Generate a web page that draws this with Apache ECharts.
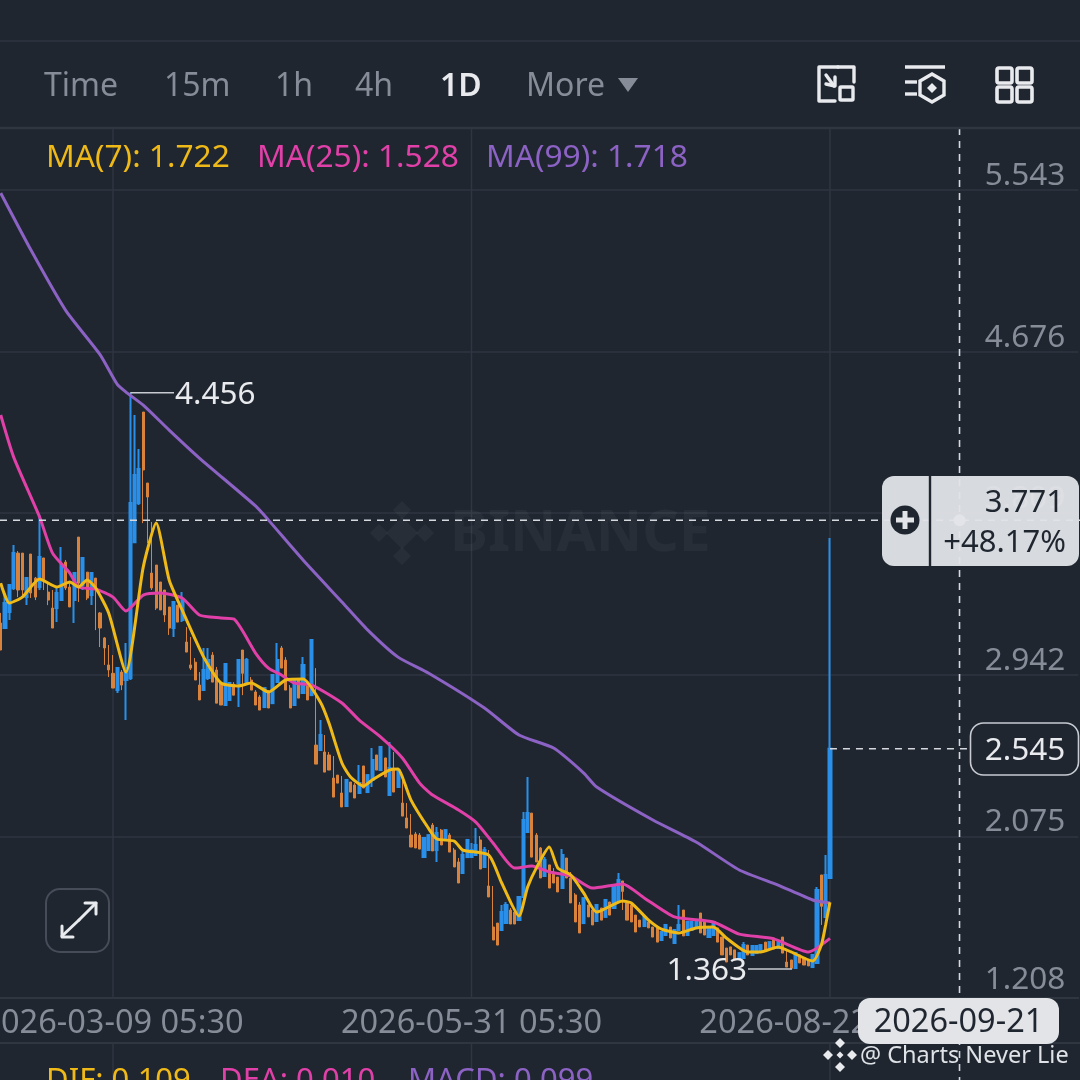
<!DOCTYPE html>
<html><head><meta charset="utf-8">
<style>html,body{margin:0;padding:0;background:#1f2630}#c{width:1080px;height:1080px}</style>
<script src="https://cdn.jsdelivr.net/npm/echarts@6/dist/echarts.min.js"></script>
</head><body><div id="c"></div>
<script>
// ---------- data ----------
const categories = [];
(function(){ const d0 = Date.UTC(2026,1,11); for (let i=0;i<250;i++){ categories.push(new Date(d0+i*864e5).toISOString().slice(0,10)+' 05:30'); } })();
const labelledDays = ['2026-03-09 05:30','2026-05-31 05:30','2026-08-22 05:30'];
const priceTicks = ['1.208','2.075','2.942','3.809','4.676','5.543'];
const axisMin = 1.208, axisStep = 0.867, axisMax = 5.876;
// [open, close, low, high]
const candles = [
[3.22,3.075,3.075,3.274],[3.193,3.327,3.193,3.381],[3.279,3.424,3.236,3.424],[3.408,3.595,3.397,3.638],[3.595,3.397,3.359,3.606],[3.595,3.397,3.359,3.595],[3.359,3.461,3.316,3.461],[3.59,3.381,3.354,3.59],[3.461,3.359,3.343,3.467],[3.413,3.574,3.397,3.799],
[3.569,3.451,3.397,3.569],[3.386,3.343,3.316,3.434],[3.3,3.193,3.193,3.397],[3.3,3.381,3.225,3.413],[3.343,3.52,3.343,3.628],[3.547,3.408,3.397,3.558],[3.413,3.306,3.306,3.434],[3.343,3.488,3.22,3.488],[3.681,3.434,3.333,3.681],[3.424,3.569,3.397,3.569],
[3.493,3.354,3.343,3.493],[3.37,3.488,3.316,3.488],[3.461,3.413,3.182,3.461],[3.274,3.193,3.091,3.279],[3.14,3.086,2.995,3.145],[2.995,2.968,2.93,3.102],[2.95,2.871,2.871,3.048],[2.86,2.978,2.844,2.978],[2.957,2.887,2.86,2.968],[2.914,2.978,2.699,3.113],
[2.925,3.864,2.914,4.456],[3.654,4.014,3.649,4.336],[3.864,4.046,3.853,4.153],[4.352,4.041,3.756,4.352],[3.971,3.896,3.649,3.971],[3.488,3.408,3.397,3.762],[3.531,3.3,3.29,3.531],[3.44,3.29,3.29,3.44],[3.397,3.263,3.225,3.397],[3.306,3.193,3.156,3.306],
[3.193,3.333,3.145,3.333],[3.316,3.225,3.225,3.316],[3.236,3.343,3.225,3.386],[3.118,3.064,3.064,3.198],[2.995,2.978,2.968,3.145],[3.01,2.914,2.914,3.032],[2.887,2.807,2.807,2.957],[2.86,2.968,2.86,3.086],[2.925,3.021,2.914,3.086],[3.048,2.903,2.903,3.064],
[2.968,2.79,2.79,2.984],[2.898,2.78,2.78,2.898],[2.78,3.0,2.78,3.0],[2.807,2.898,2.807,2.898],[2.892,2.833,2.833,2.903],[2.898,3.021,2.769,3.021],[3.075,2.95,2.833,3.075],[2.903,3.021,2.903,3.032],[2.914,2.86,2.86,2.93],[2.85,2.78,2.78,2.86],
[2.823,2.753,2.753,2.833],[2.769,2.871,2.769,2.871],[2.85,2.764,2.764,2.86],[2.79,2.941,2.79,2.941],[2.903,3.021,2.903,3.113],[3.086,2.978,2.978,3.097],[3.021,2.86,2.86,3.037],[2.871,2.764,2.764,2.887],[2.78,2.914,2.78,2.914],[2.914,2.817,2.817,2.925],
[2.844,2.995,2.844,3.037],[2.903,2.807,2.807,2.903],[2.833,3.129,2.833,3.129],[2.565,2.463,2.463,2.978],[2.539,2.619,2.539,2.699],[2.528,2.42,2.42,2.619],[2.512,2.431,2.431,2.528],[2.388,2.286,2.286,2.506],[2.404,2.361,2.361,2.404],[2.308,2.233,2.233,2.399],
[2.238,2.378,2.238,2.378],[2.367,2.313,2.313,2.367],[2.351,2.281,2.281,2.361],[2.308,2.361,2.308,2.458],[2.453,2.335,2.335,2.453],[2.313,2.404,2.313,2.404],[2.378,2.485,2.34,2.549],[2.512,2.431,2.431,2.512],[2.431,2.555,2.431,2.555],[2.496,2.394,2.394,2.496],
[2.297,2.442,2.297,2.581],[2.442,2.313,2.313,2.528],[2.34,2.431,2.34,2.431],[2.254,2.184,2.184,2.394],[2.174,2.12,2.12,2.254],[2.082,2.018,2.018,2.195],[2.088,2.013,2.013,2.099],[2.082,2.007,2.007,2.093],[1.964,2.066,1.964,2.066],[2.002,2.082,2.002,2.082],
[2.136,1.997,1.997,2.147],[2.002,2.093,1.938,2.125],[2.109,2.029,2.029,2.115],[2.056,2.109,2.056,2.109],[2.082,1.991,1.991,2.093],[2.002,1.911,1.911,2.013],[1.938,1.825,1.825,1.959],[1.879,1.975,1.879,2.002],[1.964,2.056,1.964,2.056],[1.964,2.002,1.964,2.04],
[1.975,2.029,1.975,2.12],[2.056,1.9,1.9,2.077],[1.911,2.002,1.911,2.018],[1.809,1.75,1.75,2.002],[1.589,1.519,1.519,1.809],[1.61,1.492,1.492,1.61],[1.573,1.669,1.573,1.707],[1.61,1.707,1.61,1.723],[1.68,1.605,1.605,1.691],[1.669,1.605,1.605,1.68],
[1.626,1.75,1.626,1.75],[1.75,2.163,1.75,2.206],[2.099,2.2,2.099,2.394],[2.2,1.964,1.964,2.2],[2.082,1.938,1.938,2.093],[2.013,1.852,1.852,2.018],[1.863,1.948,1.863,1.964],[1.922,1.798,1.798,1.922],[1.884,1.825,1.825,1.905],[1.857,1.777,1.777,1.857],
[1.798,1.975,1.798,2.007],[1.959,1.852,1.852,1.959],[1.852,1.718,1.718,1.884],[1.761,1.616,1.616,1.771],[1.707,1.557,1.557,1.723],[1.61,1.744,1.61,1.744],[1.707,1.643,1.643,1.707],[1.68,1.6,1.6,1.68],[1.621,1.707,1.621,1.707],[1.691,1.626,1.626,1.691],
[1.643,1.734,1.643,1.734],[1.723,1.653,1.653,1.723],[1.691,1.804,1.691,1.804],[1.734,1.841,1.734,1.879],[1.836,1.78,1.68,1.836],[1.718,1.626,1.626,1.718],[1.707,1.616,1.616,1.707],[1.653,1.562,1.562,1.653],[1.626,1.589,1.589,1.626],[1.594,1.643,1.594,1.643],
[1.616,1.584,1.584,1.616],[1.589,1.535,1.535,1.589],[1.584,1.508,1.508,1.584],[1.519,1.562,1.519,1.562],[1.546,1.6,1.546,1.6],[1.589,1.53,1.53,1.589],[1.503,1.573,1.503,1.573],[1.573,1.6,1.573,1.707],[1.68,1.541,1.541,1.68],[1.546,1.616,1.546,1.616],
[1.573,1.616,1.573,1.616],[1.584,1.616,1.584,1.616],[1.664,1.557,1.557,1.664],[1.616,1.546,1.546,1.616],[1.535,1.589,1.535,1.589],[1.546,1.616,1.546,1.616],[1.584,1.508,1.508,1.584],[1.535,1.439,1.439,1.535],[1.476,1.401,1.401,1.476],[1.482,1.439,1.439,1.482],
[1.466,1.412,1.412,1.466],[1.423,1.449,1.423,1.449],[1.423,1.492,1.423,1.508],[1.492,1.439,1.439,1.492],[1.439,1.487,1.439,1.487],[1.449,1.487,1.449,1.487],[1.455,1.492,1.455,1.492],[1.508,1.466,1.466,1.508],[1.471,1.508,1.471,1.508],[1.53,1.471,1.471,1.53],
[1.476,1.508,1.476,1.508],[1.535,1.449,1.449,1.535],[1.401,1.374,1.374,1.466],[1.412,1.368,1.363,1.412],[1.369,1.449,1.369,1.449],[1.439,1.396,1.396,1.439],[1.423,1.385,1.385,1.423],[1.412,1.38,1.38,1.412],[1.374,1.439,1.374,1.439],[1.396,1.787,1.396,1.804],
[1.868,1.7,1.6,1.868],[1.643,1.868,1.643,1.975],[1.852,2.545,1.852,3.676]
];
// moving averages as [day index, value]
const ma7 = [[0,3.434],[2,3.327],[5,3.359],[9,3.456],[13,3.413],[16,3.44],[18,3.413],[20,3.451],[22,3.408],[25,3.274],[29,2.957],[33,3.52],[36,3.756],[39,3.451],[42,3.29],[47,3.037],[51,2.898],[55,2.882],[58,2.898],[62,2.85],[66,2.914],[70,2.919],[74,2.796],[76,2.683],[79,2.469],[81,2.394],[84,2.345],[86,2.378],[90,2.431],[92,2.437],[93,2.394],[95,2.27],[99,2.12],[101,2.061],[105,2.05],[107,2.002],[113,1.975],[116,1.825],[120,1.648],[122,1.803],[124,1.905],[127,2.018],[129,1.905],[132,1.868],[135,1.771],[138,1.669],[144,1.728],[146,1.718],[150,1.626],[153,1.578],[157,1.557],[161,1.584],[165,1.589],[168,1.53],[173,1.455],[176,1.455],[180,1.482],[183,1.455],[188,1.406],[190,1.492],[191,1.6],[192,1.722]];
const ma25 = [[0,4.336],[3,4.11],[9,3.789],[12,3.595],[16,3.488],[18,3.413],[22,3.402],[26,3.359],[29,3.284],[33,3.37],[37,3.381],[42,3.354],[46,3.263],[51,3.247],[54,3.241],[59,3.059],[62,2.978],[65,2.941],[68,2.898],[72,2.887],[79,2.791],[83,2.699],[88,2.608],[93,2.496],[97,2.361],[100,2.297],[106,2.217],[110,2.152],[114,2.04],[119,1.905],[123,1.916],[127,1.884],[132,1.863],[137,1.798],[144,1.82],[149,1.745],[156,1.643],[165,1.616],[171,1.551],[179,1.525],[187,1.455],[192,1.528]];
const ma99 = [[0,5.527],[7,5.221],[15,4.899],[23,4.66],[27,4.5],[29,4.459],[33,4.389],[39,4.255],[46,4.105],[59,3.848],[62,3.772],[70,3.558],[79,3.333],[85,3.182],[92,3.037],[99,2.952],[112,2.764],[120,2.619],[128,2.549],[135,2.415],[138,2.34],[151,2.163],[161,2.045],[171,1.895],[180,1.814],[188,1.734],[192,1.718]];
const highMark = {day:'2026-03-13 05:30', value:4.456, text:'4.456'};
const lowMark = {day:'2026-08-13 05:30', value:1.363, text:'1.363'};
const lastPrice = {day:'2026-08-22 05:30', value:2.545, text:'2.545'};
const crosshair = {day:'2026-09-21 05:30', value:3.771, text:'3.771', change:'+48.17%', date:'2026-09-21'};
const tabs = [['Time',44],['15m',164],['1h',275],['4h',355],['1D',440],['More',526]];
const maLegend = [['MA(7): 1.722',46,'#efb917'],['MA(25): 1.528',257,'#e040a8'],['MA(99): 1.718',486,'#8c62c4']];
const macdLegend = [['DIF: 0.109',46,'#efb917'],['DEA: 0.010',220,'#e040a8'],['MACD: 0.099',408,'#8c62c4']];

// ---------- styles ----------
const FONT = '"Noto Sans"';
const BG='#1f2630', GRID='#2f3640', GREY='#868d98', WHITE='#e8eaee', UP='#2a8fe9', DOWN='#d9823c', CHIP='#e2e4e8', DARK='#1f2630';

const chart = echarts.init(document.getElementById('c'), null, {width:1080, height:1080});
const candleData = candles.map(c => ({value:c, itemStyle:{borderWidth: c[1]>=c[0] ? 2 : 1}}));
const lineSeries = (name,data,color,z) => ({name,type:'line',data,z,showSymbol:false,symbol:'none',smooth:0.2,
  lineStyle:{color,width:3},itemStyle:{color},animation:false,connectNulls:true,silent:true});

chart.setOption({
  animation:false,
  backgroundColor:BG,
  grid:{left:-1.45,width:1079.75,top:128,height:870,containLabel:false,outerBoundsMode:'none'},
  xAxis:{type:'category',data:categories,boundaryGap:true,
    axisLine:{show:true,lineStyle:{color:GRID,width:2}},
    axisTick:{show:false,alignWithLabel:true},
    splitLine:{show:false},
    axisLabel:{show:true,interval:(i,v)=>labelledDays.includes(v),color:GREY,fontFamily:FONT,fontSize:32.5,margin:9,hideOverlap:false}},
  yAxis:{type:'value',position:'right',min:axisMin,max:axisMax,interval:axisStep,scale:true,
    axisLine:{show:false},axisTick:{show:false},
    splitLine:{show:true,lineStyle:{color:GRID,width:1.5}},
    axisLabel:{inside:true,margin:13,color:GREY,fontFamily:FONT,fontSize:31.5,verticalAlign:'bottom',lineHeight:28,
      rich:{low:{color:GREY,fontFamily:FONT,fontSize:31.5,lineHeight:36}},
      formatter:v=>{const t=priceTicks.find(t=>Math.abs(+t-v)<0.01)||''; return t===priceTicks[0]?`{low|${t}}`:t;}}},
  series:[
    {name:'price',type:'candlestick',data:candleData,barWidth:2.6,z:2,silent:true,
      itemStyle:{color:UP,color0:DOWN,borderColor:UP,borderColor0:DOWN,borderWidth:1}},
    lineSeries('MA(99)',ma99,'#8c62c4',3),
    lineSeries('MA(25)',ma25,'#e040a8',4),
    lineSeries('MA(7)',ma7,'#efb917',5)
  ]
});

// ---------- chrome + annotations, placed through the chart's scales ----------
const px = (d,v) => chart.convertToPixel({gridIndex:0},[d,v]);
const txt = (text,x,y,fill,size,align,weight,z) => ({type:'text',z:z||50,silent:true,style:{text,x,y:y+2,fill,align:align||'left',verticalAlign:'middle',
  font:`${weight||'normal'} ${size}px ${FONT}`}});
const ln = (x1,y1,x2,y2,stroke,w,dash,z) => ({type:'line',z:z||50,silent:true,shape:{x1,y1,x2,y2},style:{stroke,lineWidth:w||1.5,lineDash:dash||null}});
const rect = (x,y,w,h,r,fill,stroke,lw,op,z) => ({type:'rect',z:z||50,silent:true,shape:{x,y,width:w,height:h,r},style:{fill,stroke,lineWidth:lw||0,opacity:op==null?1:op}});
const poly = (pts,stroke,w,z) => ({type:'polyline',z:z||50,silent:true,shape:{points:pts},style:{stroke,lineWidth:w||3,fill:'none',lineCap:'round',lineJoin:'round'}});
const diamond = (cx,cy,s,fill,z) => ({type:'polygon',z:z||50,silent:true,shape:{points:[[cx,cy-s],[cx+s,cy],[cx,cy+s],[cx-s,cy]]},style:{fill}});

const hi = px(highMark.day,highMark.value), lo = px(lowMark.day,lowMark.value), last = px(lastPrice.day,lastPrice.value), ch = px(crosshair.day,crosshair.value);
const vx = [px(labelledDays[0],2)[0],px(labelledDays[1],2)[0],px(labelledDays[2],2)[0]];
const els = [];
// frame lines
els.push(ln(0,41,1080,41,GRID,1.5), ln(0,128,1080,128,GRID,2.5), ln(0,1043,1080,1043,GRID,2));
vx.forEach(x=>els.push(ln(x,128,x,998,GRID,1.5,null,1),ln(x,1044,x,1080,GRID,1.5)));
// tabs
tabs.forEach(t=>els.push(txt(t[0],t[1],85,t[0]==='1D'?WHITE:GREY,32,'left',t[0]==='1D'?'600':'normal')));
els.push({type:'polygon',z:50,silent:true,shape:{points:[[618,78],[638,78],[628,92]]},style:{fill:GREY}});
// icon 1
els.push(poly([[838,67],[854,67],[854,82]],WHITE,3.4),poly([[838,67],[819,67],[819,101],[835,101]],WHITE,3.4),rect(840,87,13,13,1,'none',WHITE,3.4),poly([[826,75],[834,86]],WHITE,3.4),poly([[826,84],[835,86],[835,77]],WHITE,3.4));
// icon 2
els.push(ln(905,67,945,67,WHITE,3.4),ln(905,82,917,82,WHITE,3.4),ln(905,94,917,94,WHITE,3.4),
  {type:'polygon',z:50,silent:true,shape:{points:[[932,74],[944,81],[944,95],[932,102],[920,95],[920,81]]},style:{fill:'none',stroke:WHITE,lineWidth:3.4}},diamond(932,88,5,WHITE));
// icon 3
[[997,68],[1017,68],[997,87],[1017,87]].forEach(p=>els.push(rect(p[0],p[1],15,15,2,'none',WHITE,3.6)));
// MA legends
maLegend.forEach(m=>els.push(txt(m[0],m[1],156,m[2],31.7)));
macdLegend.forEach(m=>els.push(txt(m[0],m[1],1079,m[2],31)));
// watermark
const wm='rgba(255,255,255,0.04)';
els.push(diamond(402,533,16,wm,1),diamond(402,510,9,wm,1),diamond(402,556,9,wm,1),diamond(379,533,9,wm,1),diamond(425,533,9,wm,1),txt('BINANCE',450,533,wm,57,'left','bold',1));
// high / low
els.push(ln(hi[0],hi[1],174,hi[1],'#c8ccd2',1.5),txt(highMark.text,175,hi[1],WHITE,31.5));
els.push(ln(748,lo[1],lo[0]+1,lo[1],'#c8ccd2',1.5),txt(lowMark.text,747,lo[1],WHITE,31.5,'right'));
// expand button
els.push(rect(46,889,63,63,14,BG,'#464d58',2));
els.push(poly([[62,936],[79,920]],WHITE,3),poly([[62,926],[62,937],[73,937]],WHITE,3),poly([[96,903],[79,920]],WHITE,3),poly([[85,903],[96,903],[96,914]],WHITE,3));
// crosshair
const dash=[7,6], dc='#d5d8dd';
els.push(ln(ch[0],128,ch[0],1080,dc,1.6,dash,40));
els.push(ln(0,ch[1],1080,ch[1],dc,1.6,dash,40));
// last price
els.push(ln(last[0],last[1],970,last[1],dc,1.6,dash,40));
els.push(rect(970.5,723,108,52,13,BG,'#c8ccd2',1.6,1,45),txt(lastPrice.text,1025,749,WHITE,31.5,'center','normal',46));
// popup
els.push(rect(882,476,197,90,12,CHIP,null,0,0.95,60),ln(930,476,930,566,DARK,2.4,null,61),
  {type:'circle',z:61,silent:true,shape:{cx:905,cy:520,r:14.5},style:{fill:DARK}},
  ln(896,520,914,520,CHIP,5,null,62),ln(905,511,905,529,CHIP,5,null,62),
  txt(crosshair.text,1064,501,DARK,31,'right','normal',62),txt(crosshair.change,1066,541,DARK,31,'right','normal',62));
els.push({type:'circle',z:59,silent:true,shape:{cx:ch[0],cy:ch[1],r:6},style:{fill:'#e8eaee'}});
// date chip
els.push(rect(858,998,201,46,12,CHIP,null,0,1,55),txt(crosshair.date,958.5,1021,DARK,32.5,'center','normal',56));
// bottom credit
const cd=WHITE;
els.push(diamond(840,1043,5,cd,57),diamond(840,1067,5,cd,57),diamond(828,1055,5,cd,57),diamond(852,1055,5,cd,57),diamond(840,1055,3.5,cd,57),
  txt('@ Charts Never Lie',860,1054,'#dfe2e6',23.5,'left','normal',57));
chart.setOption({graphic:{elements:els}});
</script></body></html>
